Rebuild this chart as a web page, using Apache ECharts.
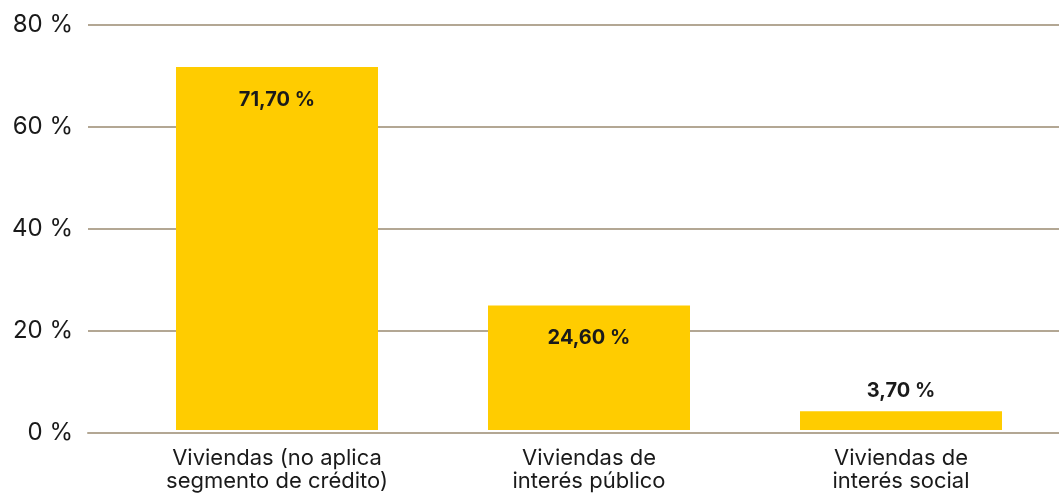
<!DOCTYPE html>
<html>
<head>
<meta charset="utf-8">
<script src="https://cdn.jsdelivr.net/npm/echarts@6/dist/echarts.min.js"></script>
<style>
  html, body { margin: 0; padding: 0; background: #fff; }
  #chart { width: 1059px; height: 493px; }
</style>
</head>
<body>
<div id="chart"></div>
<script>
var categories = ['Viviendas (no aplica\nsegmento de crédito)', 'Viviendas de\ninterés público', 'Viviendas de\ninterés social'];
var values = [71.7, 24.6, 3.7];
var labelInside = [true, true, false];
var yTicks = [0, 20, 40, 60, 80];

var font = 'Inter, "Open Sans", sans-serif';
var lineColor = '#b3a794';

var myChart = echarts.init(document.getElementById('chart'));
myChart.setOption({
  animation: false,
  grid: [
    { left: 88, right: 0, top: 25, bottom: 60 },
    { left: 121, right: 2, top: 25, bottom: 60 }
  ],
  xAxis: [
    {
      gridIndex: 0,
      type: 'category',
      data: [''],
      axisLine: { lineStyle: { color: lineColor, width: 2 } },
      axisTick: { show: false },
      axisLabel: { show: false }
    },
    {
      gridIndex: 1,
      type: 'category',
      data: categories,
      axisLine: { show: false },
      axisTick: { show: false },
      axisLabel: {
        margin: 17,
        color: '#1a1a1a',
        fontFamily: font,
        fontSize: 22,
        lineHeight: 23
      }
    }
  ],
  yAxis: [
    {
      gridIndex: 0,
      type: 'value',
      min: yTicks[0],
      max: yTicks[yTicks.length - 1],
      interval: 20,
      axisLine: { show: false },
      axisTick: { show: false },
      splitLine: { lineStyle: { color: lineColor, width: 2 } },
      axisLabel: {
        margin: 15,
        color: '#1a1a1a',
        fontFamily: font,
        fontSize: 24,
        formatter: function (v) { return v + ' %'; }
      }
    },
    {
      gridIndex: 1,
      type: 'value',
      min: yTicks[0],
      max: yTicks[yTicks.length - 1],
      interval: 20,
      show: false
    }
  ],
  series: [{
    type: 'bar',
    xAxisIndex: 1,
    yAxisIndex: 1,
    barWidth: 202,
    itemStyle: { color: '#ffcc00' },
    data: values.map(function (v, i) {
      return {
        value: v,
        label: {
          show: true,
          position: labelInside[i] ? 'insideTop' : 'top',
          distance: labelInside[i] ? 23 : 10,
          color: '#1a1a1a',
          fontFamily: font,
          fontSize: 20,
          fontWeight: 'bold',
          formatter: function (p) { return p.value.toFixed(2).replace('.', ',') + ' %'; }
        }
      };
    })
  }]
});
</script>
</body>
</html>
